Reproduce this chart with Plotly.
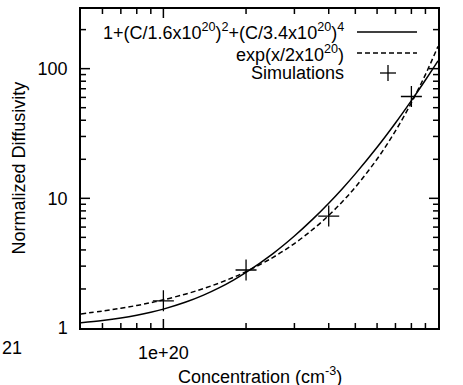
import math
import plotly.graph_objects as go

# Concentration samples (cm^-3) for the two model curves
conc = [5e19, 6e19, 7e19, 8e19, 9e19, 1e20, 1.2e20, 1.4e20, 1.6e20, 1.8e20, 2e20,
        2.5e20, 3e20, 3.5e20, 4e20, 4.5e20, 5e20, 6e20, 7e20, 8e20, 9e20, 1e21]
# 1+(C/1.6e20)^2+(C/3.4e20)^4
poly_model = [1.098, 1.142, 1.193, 1.253, 1.321, 1.398, 1.578, 1.794, 2.049, 2.344, 2.682,
              3.734, 5.122, 6.908, 9.166, 11.98, 15.44, 24.76, 38.11, 56.65, 81.74, 114.9]
# exp(x/2e20)
exp_model = [1.284, 1.350, 1.419, 1.492, 1.568, 1.649, 1.822, 2.014, 2.226, 2.460, 2.718,
             3.490, 4.482, 5.755, 7.389, 9.488, 12.18, 20.09, 33.12, 54.60, 90.02, 148.4]
# Simulation points
sim_conc = [1e20, 2e20, 4e20, 8e20]
sim_diff = [1.62, 2.8, 7.3, 61]

x_ticks = [1e20, 1e21]
x_ticklabels = ["1e+20", "1e+21"]
x_minor = [6e19, 7e19, 8e19, 9e19, 2e20, 3e20, 4e20, 5e20, 6e20, 7e20, 8e20, 9e20]
y_ticks = [1, 10, 100]
y_ticklabels = ["1", "10", "100"]
y_minor = [2, 3, 4, 5, 6, 7, 8, 9, 20, 30, 40, 50, 60, 70, 80, 90, 200]

X_RANGE = [19.7, 21.0]
Y_RANGE = [0, 2.46]

FONT = "Liberation Sans, Arial, Helvetica, sans-serif"
FS = 18
W, H = 463, 385
L, R, T, B = 81, 25, 9, 57
pw, ph = W - L - R, H - T - B

def px(x):
    return (x - L) / pw

def py(y):
    return (H - B - y) / ph

fig = go.Figure()
fig.add_trace(go.Scatter(x=conc, y=poly_model, mode="lines", line=dict(color="black", width=1.5, shape="spline"),
                         showlegend=False, hoverinfo="skip"))
fig.add_trace(go.Scatter(x=conc, y=exp_model, mode="lines",
                         line=dict(color="black", width=1.5, dash="5px,3px", shape="spline"), showlegend=False,
                         hoverinfo="skip"))
fig.add_trace(go.Scatter(x=sim_conc, y=sim_diff, mode="markers",
                         marker=dict(symbol="cross-thin", size=15, line=dict(color="black", width=1.3)),
                         showlegend=False, hoverinfo="skip"))

axis_common = dict(type="log", showgrid=False, zeroline=False, showline=True, linecolor="black", linewidth=1.5,
                   mirror=True, ticks="", tickfont=dict(family=FONT, size=FS, color="black"), tickmode="array")
fig.update_xaxes(**axis_common, range=X_RANGE, tickvals=x_ticks, ticktext=x_ticklabels, ticklabelstandoff=8)
fig.update_yaxes(**axis_common, range=Y_RANGE, tickvals=y_ticks, ticktext=y_ticklabels, ticklabelstandoff=8)

ann = []
ann.append(dict(text="Concentration (cm<sup>-3</sup>)", x=0.5, y=py(375), xref="paper", yref="paper",
                showarrow=False, font=dict(family=FONT, size=FS, color="black"), xanchor="center", yanchor="middle"))
ann.append(dict(text="Normalized Diffusivity", x=px(18), y=0.5, xref="paper", yref="paper", textangle=-90,
                showarrow=False, font=dict(family=FONT, size=FS, color="black"), xanchor="center", yanchor="middle"))
ann.append(dict(text="21", x=px(0), y=py(348), xref="paper", yref="paper", showarrow=False,
                font=dict(family=FONT, size=FS, color="black"), xanchor="left", yanchor="middle"))
legend_rows = [("1+(C/1.6x10<sup>20</sup>)<sup>2</sup>+(C/3.4x10<sup>20</sup>)<sup>4</sup>", 31),
               ("exp(x/2x10<sup>20</sup>)", 53),
               ("Simulations", 73)]
for txt, yy in legend_rows:
    ann.append(dict(text=txt, x=px(346), y=py(yy), xref="paper", yref="paper", showarrow=False,
                    font=dict(family=FONT, size=FS, color="black"), xanchor="right", yanchor="middle"))

shapes = [
    dict(type="line", xref="paper", yref="paper", x0=px(357), x1=px(417), y0=py(32), y1=py(32),
         line=dict(color="black", width=1.5)),
    dict(type="line", xref="paper", yref="paper", x0=px(357), x1=px(417), y0=py(53), y1=py(53),
         line=dict(color="black", width=1.5, dash="5px,3px")),
    dict(type="line", xref="paper", yref="paper", x0=px(380), x1=px(396), y0=py(73), y1=py(73),
         line=dict(color="black", width=1.3)),
    dict(type="line", xref="paper", yref="paper", x0=px(388), x1=px(388), y0=py(65), y1=py(81),
         line=dict(color="black", width=1.3)),
]

# Inside tick marks on all four sides (axis decoration, placed from the tick value lists)
MAJ, MIN = 9, 5
def xfrac(v):
    return (math.log10(v) - X_RANGE[0]) / (X_RANGE[1] - X_RANGE[0])

def yfrac(v):
    return (math.log10(v) - Y_RANGE[0]) / (Y_RANGE[1] - Y_RANGE[0])

for vals, ln in ((x_ticks, MAJ), (x_minor, MIN)):
    for v in vals:
        f = xfrac(v)
        if 0 < f < 1:
            shapes.append(dict(type="line", xref="paper", yref="paper", x0=f, x1=f, y0=0, y1=ln / ph,
                               line=dict(color="black", width=1.5)))
            shapes.append(dict(type="line", xref="paper", yref="paper", x0=f, x1=f, y0=1, y1=1 - ln / ph,
                               line=dict(color="black", width=1.5)))
for vals, ln in ((y_ticks, MAJ), (y_minor, MIN)):
    for v in vals:
        f = yfrac(v)
        if 0 < f < 1:
            shapes.append(dict(type="line", xref="paper", yref="paper", y0=f, y1=f, x0=0, x1=ln / pw,
                               line=dict(color="black", width=1.5)))
            shapes.append(dict(type="line", xref="paper", yref="paper", y0=f, y1=f, x0=1, x1=1 - ln / pw,
                               line=dict(color="black", width=1.5)))

fig.update_layout(width=W, height=H, margin=dict(l=L, r=R, t=T, b=B, autoexpand=False),
                  paper_bgcolor="white", plot_bgcolor="white", annotations=ann, shapes=shapes,
                  font=dict(family=FONT, size=FS, color="black"))
fig.write_html("out.html", config={"displayModeBar": False},
               post_script="document.body.style.margin='0';")
